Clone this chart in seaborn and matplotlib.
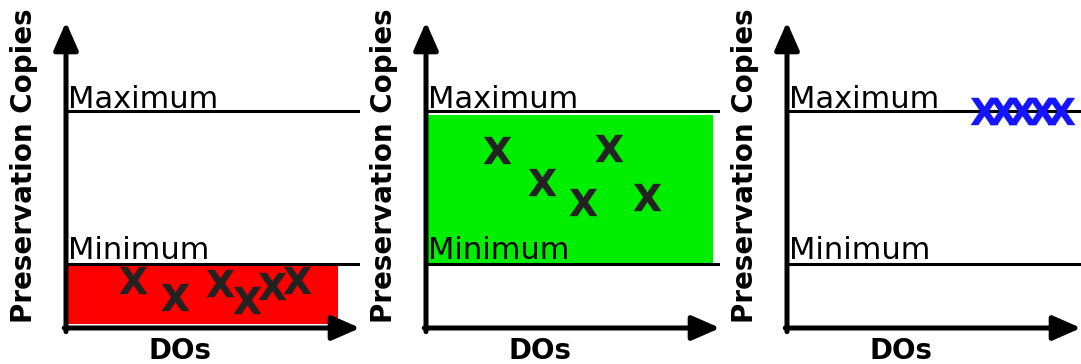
import numpy as np
import pandas as pd
import matplotlib.pyplot as plt
import seaborn as sns

# thresholds (same for all panels)
minimum = 2.1
maximum = 7.1

# panel 1: below minimum
p1_x = [2.28, 3.71, 5.24, 6.16, 7.01, 7.86]
p1_y = [1.57, 1.01, 1.47, 0.92, 1.37, 1.57]
# panel 2: between minimum and maximum
p2_x = [2.41, 3.95, 5.34, 6.22, 7.52]
p2_y = [5.82, 4.77, 4.12, 5.88, 4.28]
# panel 3: at maximum
p3_x = [6.70, 7.35, 8.01, 8.67, 9.32]
p3_y = [7.1, 7.1, 7.1, 7.1, 7.1]

# shaded regions (x range, y range)
red_x = [0.07, 9.25]
red_y = [0.13, 2.1]
green_x = [0.07, 9.76]
green_y = [2.12, 6.96]

fig = plt.figure(figsize=(10.81, 3.64), dpi=100)

W, H = 1081, 364
lefts = [66, 426, 787]
axes = [fig.add_axes([l / W, 36 / H, 294 / W, 306 / H]) for l in lefts]

points = [(p1_x, p1_y, '#222222'), (p2_x, p2_y, '#222222'), (p3_x, p3_y, '#1414ff')]

for i, ax in enumerate(axes):
    ax.set_xlim(0, 10)
    ax.set_ylim(0, 10)

    if i == 0:
        ax.fill_between(red_x, red_y[0], red_y[1], color='#ff0000', lw=0, zorder=1)
    if i == 1:
        ax.fill_between(green_x, green_y[0], green_y[1], color='#00ee00', lw=0, zorder=1)

    ax.axhline(maximum, color='black', lw=2.2, zorder=2)
    ax.axhline(minimum, color='black', lw=2.2, zorder=2)
    ax.text(0.07, maximum + 0.1, 'Maximum', fontsize=22, va='baseline', ha='left', zorder=3)
    ax.text(0.07, minimum + 0.17, 'Minimum', fontsize=22, va='baseline', ha='left', zorder=3)

    xs, ys, c = points[i]
    df = pd.DataFrame({'x': xs, 'y': ys})
    sns.scatterplot(data=df, x='x', y='y', ax=ax, marker=r'$\mathbf{X}$', s=380,
                    color=c, edgecolor=c, linewidth=0.3, zorder=4)

    # axis arrows
    arrow = '-|>,head_length=0.5,head_width=0.22'
    ax.annotate('', xy=(0, 1), xytext=(0, -0.012), xycoords='axes fraction',
                arrowprops=dict(arrowstyle=arrow, lw=3.6, color='black', mutation_scale=34,
                                shrinkA=0, shrinkB=0), annotation_clip=False)
    ax.annotate('', xy=(1, 0), xytext=(-0.006, 0), xycoords='axes fraction',
                arrowprops=dict(arrowstyle=arrow, lw=3.6, color='black', mutation_scale=34,
                                shrinkA=0, shrinkB=0), annotation_clip=False)

    sns.despine(ax=ax, left=True, bottom=True)
    ax.set_xticks([])
    ax.set_yticks([])
    ax.set_xlabel('DOs', fontsize=20, fontweight='bold')
    ax.set_ylabel('Preservation Copies', fontsize=20, fontweight='bold')
    ax.xaxis.set_label_coords(0.388, -0.03)
    ax.yaxis.set_label_coords(-0.095, 0.53)

fig.savefig('out.png', dpi=100)
